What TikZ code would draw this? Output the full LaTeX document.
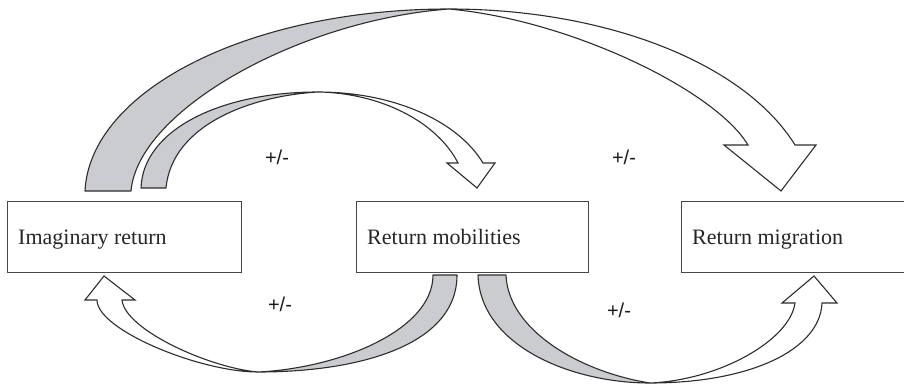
\documentclass[tikz,border=0pt]{standalone}
\usepackage{fontspec}
\setmainfont{Liberation Serif}
\newfontfamily\signfont{Liberation Sans}
\definecolor{bandgray}{RGB}{203,204,207}
\definecolor{edgecol}{RGB}{45,45,45}
\definecolor{boxedge}{RGB}{70,70,70}
\begin{document}
\begin{tikzpicture}[x=1pt,y=-1pt,
  box/.style={draw=boxedge, line width=1.4pt, minimum width=#1, minimum height=71pt, anchor=north west, inner sep=0pt},
  boxtext/.style={font=\fontsize{22}{26}\selectfont, inner sep=0pt, anchor=base west, text=black!85},
  sign/.style={font=\signfont\fontsize{20}{24}\selectfont, inner sep=0pt, text=black!90},
  band/.style={fill=bandgray, draw=edgecol, line width=1.1pt, line join=round},
  front/.style={fill=white, draw=edgecol, line width=1.1pt, line join=miter}]
\useasboundingbox (0,0) rectangle (904,385);
\clip (0,0) rectangle (904,385);
% boxes
\node[box=234pt] (b1) at (7,201) {};
\node[box=232pt] (b2) at (356,201) {};
\node[box=226pt] (b3) at (681,201) {};
\node[boxtext] (t1) at (18,244) {Imaginary return};
\node[boxtext] (t2) at (367,244) {Return mobilities};
\node[boxtext] (t3) at (692,244) {Return migration};
% signs
\node[sign] (s1) at (277,157) {+/-};
\node[sign] (s2) at (624,157) {+/-};
\node[sign] (s3) at (280,304) {+/-};
\node[sign] (s4) at (619,310) {+/-};
% arrow A: Imaginary return -> Return migration
\path[band] (85,191) .. controls (90,90) and (250,9) .. (449,9) .. controls (300,20) and (138,110) .. (131,191) -- cycle;
\path[front] (449,9) .. controls (608,9) and (745,64) .. (795,145) -- (816,145) -- (781,191) -- (724,145) -- (748,145) .. controls (715,90) and (570,20) .. (449,9) -- cycle;
% arrow B: Imaginary return -> Return mobilities
\path[band] (141,188) .. controls (143,130) and (220,92) .. (318,92) .. controls (250,96) and (172,125) .. (166,188) -- cycle;
\path[front] (318,92) .. controls (392,92) and (457,120) .. (483,163) -- (495,163) -- (477,188) -- (447,163) -- (458,163) .. controls (437,122) and (381,93) .. (318,92) -- cycle;
% arrow C: Return mobilities -> Imaginary return
\path[band] (457,275) .. controls (457,345) and (360,372) .. (258,372) .. controls (340,368) and (433,330) .. (433,275) -- cycle;
\path[front] (258,372) .. controls (200,372) and (97,330) .. (97,300) -- (85,300) -- (104,276) -- (135,300) -- (122,300) .. controls (125,330) and (210,368) .. (258,372) -- cycle;
% arrow D: Return mobilities -> Return migration
\path[band] (478,275) .. controls (480,345) and (570,383) .. (650,383) .. controls (580,372) and (508,330) .. (506,275) -- cycle;
\path[front] (650,383) .. controls (750,383) and (820,350) .. (822,303) -- (837,303) -- (814,276) -- (782,303) -- (795,303) .. controls (790,340) and (720,380) .. (650,383) -- cycle;
\end{tikzpicture}
\end{document}
